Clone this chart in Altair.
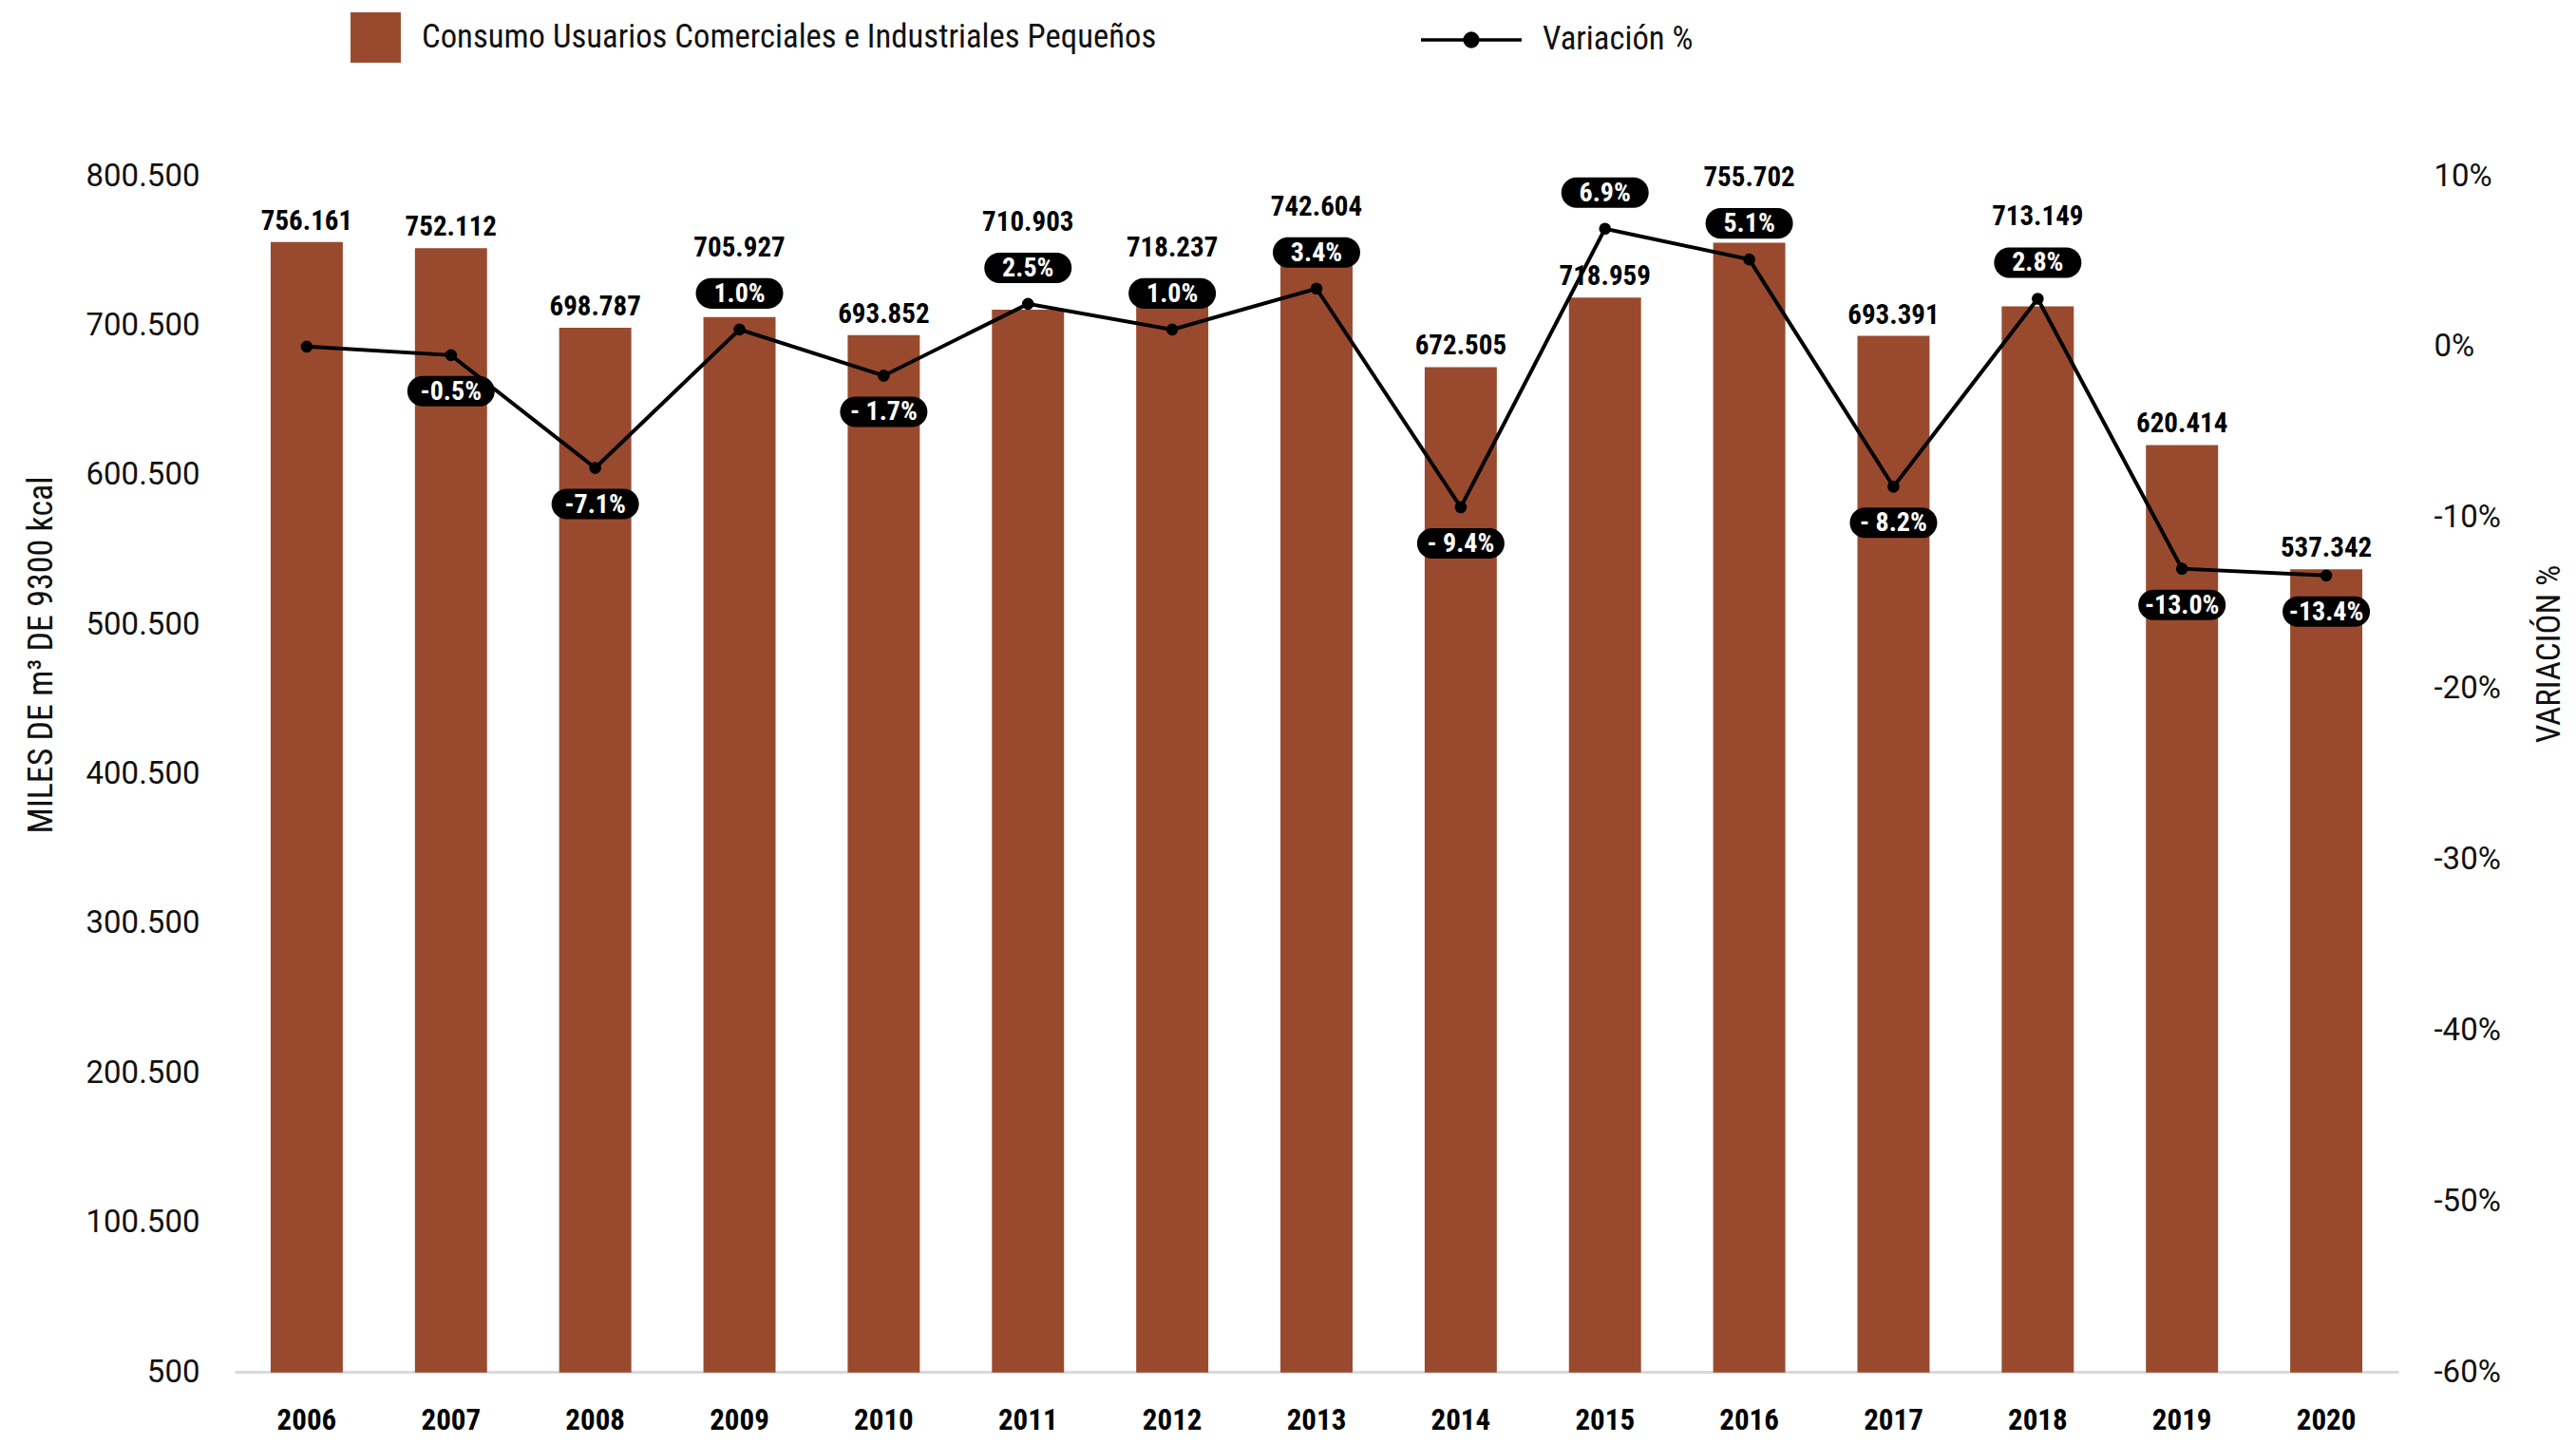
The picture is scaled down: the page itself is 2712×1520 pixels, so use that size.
import altair as alt
import pandas as pd

years = ["2006", "2007", "2008", "2009", "2010", "2011", "2012", "2013",
         "2014", "2015", "2016", "2017", "2018", "2019", "2020"]
consumo = [756161, 752112, 698787, 705927, 693852, 710903, 718237, 742604,
           672505, 718959, 755702, 693391, 713149, 620414, 537342]
variacion = [0.0, -0.5, -7.1, 1.0, -1.7, 2.5, 1.0, 3.4,
             -9.4, 6.9, 5.1, -8.2, 2.8, -13.0, -13.4]
var_labels = ["", "-0.5%", "-7.1%", "1.0%", "- 1.7%", "2.5%", "1.0%", "3.4%",
              "- 9.4%", "6.9%", "5.1%", "- 8.2%", "2.8%", "-13.0%", "-13.4%"]
left_ticks = [500, 100500, 200500, 300500, 400500, 500500, 600500, 700500, 800500]
right_ticks = [-60, -50, -40, -30, -20, -10, 0, 10]

BAR_NAME = "Consumo Usuarios Comerciales e Industriales Pequeños"
LINE_NAME = "Variación %"

df = pd.DataFrame({"year": years, "consumo": consumo, "pct": variacion, "lab": var_labels})

W, H = 2278, 1259
KP = 70.0 / H
KL = 800000.0 / H

BROWN = "#994A2E"
COND = "Roboto Condensed, Liberation Sans Narrow, Roboto"
REG = "Roboto"

PILL = ("M-0.652,-0.348L0.652,-0.348A0.348,0.348,0,0,1,0.652,0.348"
        "L-0.652,0.348A0.348,0.348,0,0,1,-0.652,-0.348Z")
LEG_LINE = ("M-1,0L1,0M0.13,0A0.13,0.13,0,1,1,-0.13,0"
            "A0.13,0.13,0,1,1,0.13,0Z")

base = alt.Chart(df).transform_calculate(
    serie1=f"'{BAR_NAME}'",
    serie2=f"'{LINE_NAME}'",
    pillPct=f"datum.pct >= 0 ? datum.pct + {38 * KP} : datum.pct - {38 * KP}",
).transform_calculate(
    pillTopL=f"500 + (datum.pillPct + {16 * KP} + 60) / 70 * 800000",
    pillBotL=f"500 + (datum.pillPct - {16 * KP} + 60) / 70 * 800000",
    consumoTxt="replace(format(datum.consumo, ','), ',', '.')",
).transform_calculate(
    labelL=(f"(datum.lab != '' && datum.pct > 0 && datum.pillBotL < datum.consumo + {37 * KL}"
            f" && datum.pillTopL > datum.consumo) ? datum.pillTopL + {10 * KL} : datum.consumo")
)

x_axis = alt.Axis(title=None, labelAngle=0, labelFont=COND, labelFontSize=31,
                  labelFontWeight="bold", labelColor="#000",
                  labelBaseline="alphabetic", labelPadding=60, ticks=False,
                  domainColor="#d9d9d9", domainWidth=3)
x = alt.X("year:N", sort=years,
          scale=alt.Scale(paddingInner=0.5, paddingOuter=0.25), axis=x_axis)

yL_scale = alt.Scale(domain=[500, 800500], nice=False, zero=False)
yR_scale = alt.Scale(domain=[-60, 10], nice=False, zero=False)

left_axis = alt.Axis(orient="left", values=left_ticks,
                     labelExpr="replace(format(datum.value, ','), ',', '.')",
                     labelFont=REG, labelFontSize=33, labelColor="#111",
                     labelPadding=37, ticks=False, domain=False, grid=False,
                     title="MILES DE m³ DE 9300 kcal", titleFont=COND,
                     titleFontSize=36, titleFontWeight="normal", titleColor="#111",
                     titleAngle=270, titleX=-204, titleY=504,
                     titleAlign="center", titleBaseline="middle")

right_axis = alt.Axis(orient="right", values=right_ticks,
                      labelExpr="datum.value + '%'",
                      labelFont=REG, labelFontSize=33, labelColor="#111",
                      labelPadding=37, ticks=False, domain=False, grid=False,
                      title="VARIACIÓN %", titleFont=COND,
                      titleFontSize=35, titleFontWeight="normal", titleColor="#111",
                      titleAngle=270, titleX=158, titleY=503,
                      titleAlign="center", titleBaseline="middle")

bars = base.mark_bar().encode(
    x=x,
    y=alt.Y("consumo:Q", scale=yL_scale, axis=left_axis),
    color=alt.Color("serie1:N", scale=alt.Scale(range=[BROWN]),
                    legend=alt.Legend(title=None, orient="none", legendX=122, legendY=-172,
                                      symbolType="square", symbolSize=2800,
                                      symbolStrokeWidth=0, labelFont=COND,
                                      labelFontSize=34.7, labelColor="#111",
                                      labelOffset=22, padding=0, labelLimit=2000)),
)

bar_labels = base.mark_text(font=COND, fontSize=29, fontWeight="bold", color="#000",
                            baseline="alphabetic", dy=-13).encode(
    x=x,
    y=alt.Y("labelL:Q", scale=yL_scale, axis=left_axis),
    text="consumoTxt:N",
)

left_group = alt.layer(bars, bar_labels)

line = base.mark_line(strokeWidth=4).encode(
    x=x,
    y=alt.Y("pct:Q", scale=yR_scale, axis=right_axis),
    stroke=alt.Stroke("serie2:N", scale=alt.Scale(range=["#000"]),
                      legend=alt.Legend(title=None, orient="none", legendX=1247, legendY=-198,
                                        symbolType=LEG_LINE, symbolSize=106 * 106,
                                        symbolStrokeWidth=3.5, symbolFillColor="#000",
                                        symbolStrokeColor="#000", labelFont=COND,
                                        labelFontSize=34.7, labelColor="#111",
                                        labelOffset=20, padding=0, labelLimit=2000)),
)

points = base.mark_point(filled=True, size=160, color="#000", opacity=1).encode(
    x=x,
    y=alt.Y("pct:Q", scale=yR_scale, axis=right_axis),
)

pills = base.transform_filter("datum.lab != ''").mark_point(
    shape=PILL, size=92 * 92, filled=True, color="#000", opacity=1).encode(
    x=x,
    y=alt.Y("pillPct:Q", scale=yR_scale, axis=right_axis),
)

pill_text = base.transform_filter("datum.lab != ''").mark_text(
    font=COND, fontSize=28, fontWeight="bold", color="#fff", baseline="middle", dy=1).encode(
    x=x,
    y=alt.Y("pillPct:Q", scale=yR_scale, axis=right_axis),
    text="lab:N",
)

right_group = alt.layer(line, points, pills, pill_text)

chart = alt.layer(left_group, right_group).resolve_scale(
    y="independent", color="independent", stroke="independent"
).properties(
    width=W, height=H,
    padding={"left": 239, "top": 177, "right": 179, "bottom": 68},
    autosize=alt.AutoSizeParams(type="none"),
    background="#ffffff",
).configure_view(stroke=None)

chart.save("out.html", embed_options={"renderer": "svg", "actions": False})
